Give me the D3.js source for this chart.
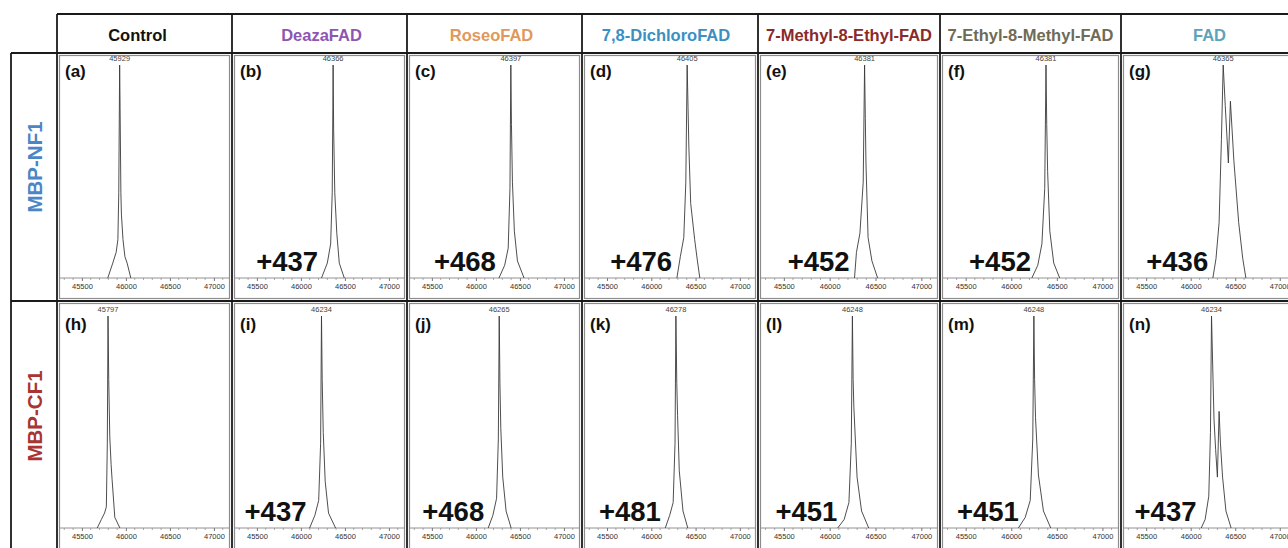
<!DOCTYPE html>
<html>
<head>
<meta charset="utf-8">
<script src="https://cdn.jsdelivr.net/npm/d3@7"></script>
<style>
  html, body { margin: 0; padding: 0; background: #fff; }
  svg { display: block; font-family: "Liberation Sans", Arial, sans-serif; }
</style>
</head>
<body>
<svg id="chart" width="1288" height="548"></svg>
<script>
// column headers (ligand) and their colours
const columns = ["Control", "DeazaFAD", "RoseoFAD", "7,8-DichloroFAD", "7-Methyl-8-Ethyl-FAD", "7-Ethyl-8-Methyl-FAD", "FAD"];
const columnColors = ["#111111", "#8e56b3", "#e0985c", "#3b8fc2", "#8a2a2a", "#6f6b57", "#5da3ba"];

// row headers (protein)
const rows = ["MBP-NF1", "MBP-CF1"];
const rowColors = ["#4a86c6", "#a83434"];

// panel letters, apex masses and mass shifts
const letters = [["a", "b", "c", "d", "e", "f", "g"], ["h", "i", "j", "k", "l", "m", "n"]];
const apexMass = [
  [45929, 46366, 46397, 46405, 46381, 46381, 46365],
  [45797, 46234, 46265, 46278, 46248, 46248, 46234]
];
const shifts = [
  [null, "+437", "+468", "+476", "+452", "+452", "+436"],
  [null, "+437", "+468", "+481", "+451", "+451", "+437"]
];

// x axis
const massDomain = [45240, 47160];
const majorTicks = [45500, 46000, 46500, 47000];
const minorTicks = [45300, 45400, 45600, 45700, 45800, 45900, 46100, 46200, 46300, 46400, 46600, 46700, 46800, 46900, 47100];

// deconvoluted peak traces: [Da from apex, % intensity]
const profiles = [
  [
    [[-135,0],[-78,7],[-40,12],[-20,18],[-10,40],[-4,75],[0,100],[5,80],[14,40],[20,30],[38,18],[60,10],[85,7],[127,0]],
    [[-132,0],[-66,7],[-28,16],[-10,40],[-3,80],[0,100],[6,70],[19,40],[42,21],[70,7],[127,0]],
    [[-135,0],[-70,6],[-30,14],[-10,42],[0,100],[7,72],[18,45],[40,22],[75,8],[150,0]],
    [[-116,0],[-77,10],[-38,19],[-15,45],[0,100],[10,80],[19,62],[40,35],[85,18],[116,8],[143,0]],
    [[-110,0],[-89,12],[-51,21],[-15,45],[0,100],[8,75],[15,54],[38,19],[80,8],[142,0]],
    [[-155,0],[-90,6],[-45,16],[-14,42],[0,100],[8,72],[18,50],[42,22],[85,7],[150,0]],
    [[-116,0],[-81,9],[-46,26],[-20,65],[0,100],[23,81],[58,54],[81,83],[120,55],[174,26],[220,9],[255,0]]
  ],
  [
    [[-123,0],[-76,4],[-40,7],[-19,10],[-8,40],[0,100],[8,70],[20,43],[35,30],[46,23],[77,5],[135,0]],
    [[-135,0],[-75,6],[-32,13],[-10,40],[0,100],[8,70],[20,45],[42,22],[80,7],[160,0]],
    [[-125,0],[-72,6],[-30,14],[-10,42],[0,100],[8,68],[18,47],[40,24],[78,8],[135,0]],
    [[-120,0],[-70,6],[-31,12],[-10,40],[0,100],[10,68],[19,53],[38,27],[80,8],[134,0]],
    [[-160,0],[-90,4],[-38,12],[-12,40],[0,100],[8,70],[16,57],[51,24],[100,8],[178,0]],
    [[-170,0],[-95,5],[-40,13],[-12,42],[0,100],[8,70],[18,52],[50,25],[105,8],[185,0]],
    [[-116,0],[-72,4],[-31,15],[-12,45],[0,100],[14,75],[28,51],[46,37],[66,24],[85,55],[100,40],[124,24],[162,8],[220,0]]
  ]
];

// layout
const W = 1288, H = 548;
const colEdges = [57, 232, 407, 582, 758, 940, 1121, 1298];
const headerNudge = [-7, 2, -3, -4, 0, 0, 0];
const headerTop = 14, headerBottom = 53;
const rowLayout = [
  { top: 53, bottom: 301, axis: 278, apex: 65, letter: 77 },
  { top: 301, bottom: 560, axis: 528, apex: 316, letter: 330 }
];
const font = '"Liberation Sans", Arial, sans-serif';

const svg = d3.select("#chart");
svg.append("rect").attr("width", W).attr("height", H).attr("fill", "#fff");

const panels = svg.append("g");

rowLayout.forEach((row, r) => {
  const y = d3.scaleLinear().domain([0, 100]).range([row.axis, row.apex]);

  columns.forEach((c, ci) => {
    const x0 = colEdges[ci], x1 = colEdges[ci + 1];
    const x = d3.scaleLinear().domain(massDomain).range([x0 + 2, x1 - 4]);
    const g = panels.append("g");

    // inner gray frame of each spectrum image
    g.append("rect")
      .attr("x", x0 + 2.5).attr("y", row.top + 2.5)
      .attr("width", x1 - x0 - 5).attr("height", row.bottom - row.top - 5)
      .attr("fill", "none").attr("stroke", "#8c8c8c").attr("stroke-width", 1.2);

    // axis
    const axis = d3.axisBottom(x).tickValues(majorTicks).tickSize(3).tickFormat(d3.format("d"));
    const ax = g.append("g").attr("transform", `translate(0,${row.axis})`).call(axis);
    ax.select(".domain").attr("stroke", "#777").attr("stroke-width", 0.8)
      .attr("d", `M${x0 + 3},0H${x1 - 3}`);
    ax.selectAll(".tick line").attr("stroke", "#777");
    ax.selectAll(".tick text").attr("font-size", 7.5).attr("font-family", font)
      .attr("fill", "#333").attr("dy", 0).attr("y", 11);
    g.append("g").selectAll("line").data(minorTicks).join("line")
      .attr("x1", d => x(d)).attr("x2", d => x(d))
      .attr("y1", row.axis).attr("y2", row.axis + 2)
      .attr("stroke", "#888").attr("stroke-width", 0.7);

    // spectrum trace
    const apex = apexMass[r][ci];
    const line = d3.line().x(d => x(apex + d[0])).y(d => y(d[1]));
    g.append("path").datum(profiles[r][ci])
      .attr("d", line).attr("fill", "none")
      .attr("stroke", "#3a3a3a").attr("stroke-width", 0.9);

    // apex mass label
    g.append("text").attr("x", x(apex)).attr("y", row.apex - 4)
      .attr("text-anchor", "middle").attr("font-size", 7.5).attr("fill", "#444")
      .text(apex);

    // panel letter
    g.append("text").attr("x", x0 + 8).attr("y", row.letter)
      .attr("font-size", 17).attr("font-weight", "bold").attr("fill", "#111")
      .text(`(${letters[r][ci]})`);

    // mass shift
    if (shifts[r][ci]) {
      g.append("text").attr("x", x(apex) - 15).attr("y", row.axis - 7)
        .attr("text-anchor", "end").attr("font-size", 27.5).attr("font-weight", "bold")
        .attr("fill", "#111").text(shifts[r][ci]);
    }
  });
});

// header labels
svg.append("g").selectAll("text").data(columns).join("text")
  .attr("x", (d, i) => (colEdges[i] + Math.min(colEdges[i + 1], W + 10)) / 2 + headerNudge[i])
  .attr("y", 41)
  .attr("text-anchor", "middle").attr("font-size", 16.5).attr("font-weight", "bold")
  .attr("fill", (d, i) => columnColors[i])
  .text(d => d);

// row labels
svg.append("g").selectAll("text").data(rows).join("text")
  .attr("transform", (d, i) => `translate(42,${i === 0 ? 167 : 416}) rotate(-90)`)
  .attr("text-anchor", "middle").attr("font-size", 20.5).attr("font-weight", "bold")
  .attr("fill", (d, i) => rowColors[i])
  .text(d => d);

// black table lines
const grid = svg.append("g").attr("stroke", "#1a1a1a").attr("stroke-width", 1.8).attr("fill", "none");
grid.append("line").attr("x1", colEdges[0]).attr("x2", W).attr("y1", headerTop).attr("y2", headerTop);
grid.append("line").attr("x1", 11).attr("x2", W).attr("y1", headerBottom).attr("y2", headerBottom);
grid.append("line").attr("x1", 11).attr("x2", W).attr("y1", rowLayout[1].top).attr("y2", rowLayout[1].top);
grid.append("line").attr("x1", 11).attr("x2", 11).attr("y1", headerBottom).attr("y2", H);
grid.selectAll(".v").data(colEdges.slice(0, -1)).join("line")
  .attr("x1", d => d).attr("x2", d => d).attr("y1", headerTop).attr("y2", H);
</script>
</body>
</html>
